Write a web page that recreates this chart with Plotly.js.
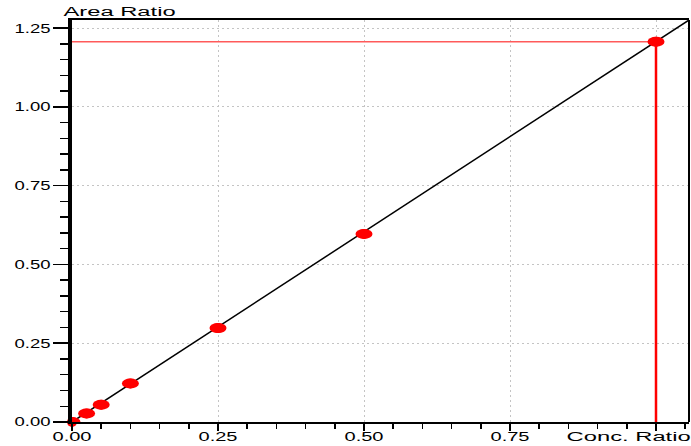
<!DOCTYPE html>
<html>
<head>
<meta charset="utf-8">
<script src="https://cdn.plot.ly/plotly-3.0.1.min.js"></script>
<style>
  html, body { margin: 0; padding: 0; background: #fff; }
  #chart { width: 691px; height: 446px; }
</style>
</head>
<body>
<div id="chart"></div>
<script>
// Calibration points
const concRatio = [0.0, 0.025, 0.05, 0.10, 0.25, 0.50, 1.00];
const areaRatio = [0.0, 0.027, 0.055, 0.122, 0.298, 0.597, 1.207];

// Regression line
const fitX = [0, 1.0565];
const fitY = [0, 1.276];

// Read-off crosshair for the top standard
const hLineX = [0, 1.0];
const hLineY = [1.207, 1.207];
const vLineX = [1.0, 1.0];
const vLineY = [1.207, 0];

// Tick labels
const xTickVals = [0, 0.25, 0.5, 0.75, 1.0];
const xTickText = ['0.00', '0.25', '0.50', '0.75', ''];
const yTickVals = [0, 0.25, 0.5, 0.75, 1.0, 1.25];
const yTickText = ['0.00', '0.25', '0.50', '0.75', '1.00', '1.25'];

const font = { family: 'Liberation Sans, Arial, sans-serif', size: 12.5, color: '#000' };

const traces = [
  { x: fitX, y: fitY, mode: 'lines', line: { color: '#000', width: 1.5 }, hoverinfo: 'skip' },
  { x: hLineX, y: hLineY, mode: 'lines', line: { color: '#ff5a5a', width: 1.5 }, hoverinfo: 'skip' },
  { x: vLineX, y: vLineY, mode: 'lines', line: { color: '#ff0000', width: 2.5 }, hoverinfo: 'skip' },
  { x: concRatio, y: areaRatio, mode: 'markers', cliponaxis: false,
    marker: { color: '#ff0000', size: 10, line: { width: 0 } } }
];

// Ellipse markers (pixel-sized, anchored at the data values)
const shapes = concRatio.map((cx, i) => ({
  type: 'circle', xref: 'x', yref: 'y',
  xsizemode: 'pixel', ysizemode: 'pixel',
  xanchor: cx, yanchor: areaRatio[i],
  x0: -8.5, x1: 8.5, y0: -5, y1: 5,
  fillcolor: '#ff0000', line: { width: 0 }, layer: 'above'
}));
shapes.push({ type: 'line', xref: 'paper', yref: 'paper', x0: 1, x1: 1, y0: 0, y1: 1,
  line: { color: '#000', width: 2 } });

const layout = {
  width: 691, height: 446,
  margin: { l: 72, r: 2, t: 20, b: 24 },
  paper_bgcolor: '#fff', plot_bgcolor: '#fff',
  showlegend: false,
  font: font,
  xaxis: {
    range: [0, 1.0565], tickmode: 'array', tickvals: xTickVals, ticktext: xTickText,
    showgrid: true, gridcolor: '#c4c4c4', griddash: '2px,3px', gridwidth: 1,
    zeroline: false, showline: true, linecolor: '#000', linewidth: 2, mirror: true,
    ticks: 'outside', ticklen: 7, tickwidth: 1.5, tickcolor: '#000',
    minor: { dtick: 0.05, tick0: 0, ticks: 'outside', ticklen: 5, tickwidth: 1.5, tickcolor: '#000', showgrid: false },
    tickfont: font, ticklabelstandoff: -5, fixedrange: true
  },
  yaxis: {
    range: [0, 1.276], tickmode: 'array', tickvals: yTickVals, ticktext: yTickText,
    showgrid: true, gridcolor: '#c4c4c4', griddash: '2px,3px', gridwidth: 1,
    zeroline: false, showline: true, linecolor: '#000', linewidth: 4,
    ticks: 'outside', ticklen: 15, tickwidth: 1.5, tickcolor: '#000',
    minor: { dtick: 0.05, tick0: 0, ticks: 'outside', ticklen: 8, tickwidth: 1.5, tickcolor: '#000', showgrid: false },
    tickfont: font, ticklabelstandoff: 0, fixedrange: true
  },
  shapes: shapes,
  annotations: [
    { text: 'Area Ratio', xref: 'paper', yref: 'paper', x: 0.0762, y: 1,
      xanchor: 'center', yanchor: 'bottom', yshift: -1, showarrow: false, font: font },
    { text: 'Conc. Ratio', xref: 'paper', yref: 'paper', x: 0.902, y: 0,
      xanchor: 'center', yanchor: 'top', yshift: -6, showarrow: false, font: font }
  ]
};

// Horizontally widened lettering, as in the original instrument software
function widen(selector, factor) {
  document.querySelectorAll(selector).forEach(t => {
    const len = t.getComputedTextLength();
    if (len > 0) {
      t.setAttribute('lengthAdjust', 'spacingAndGlyphs');
      t.setAttribute('textLength', (len * factor).toFixed(1));
    }
  });
}

Plotly.newPlot('chart', traces, layout, { displayModeBar: false, staticPlot: true }).then(() => {
  widen('.xtick text', 1.6);
  widen('.ytick text', 1.48);
  widen('.annotation-text', 1.9);
});
</script>
</body>
</html>
